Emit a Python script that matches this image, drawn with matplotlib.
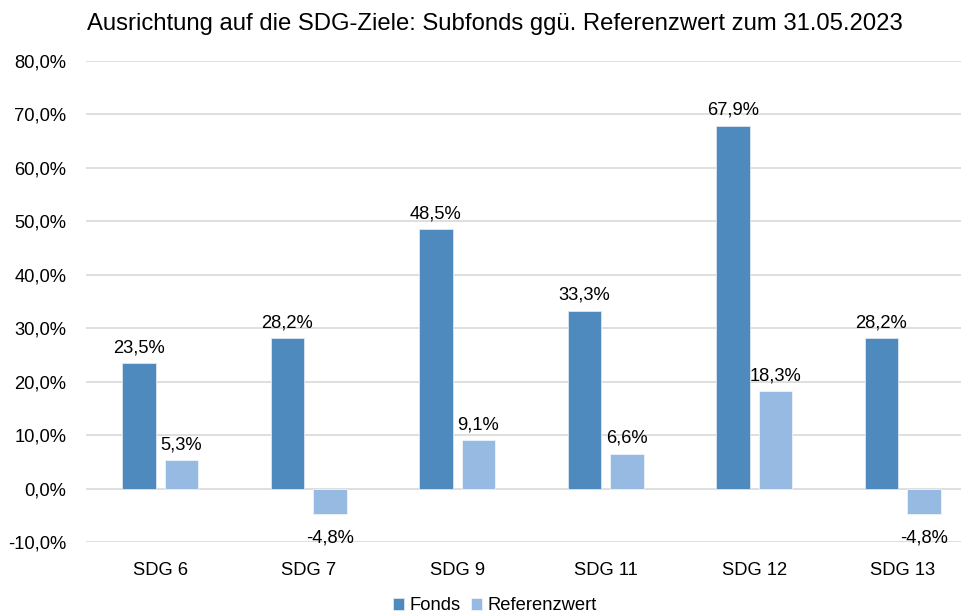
import numpy as np
import matplotlib
matplotlib.use("Agg")
import matplotlib.pyplot as plt

categories = ["SDG 6", "SDG 7", "SDG 9", "SDG 11", "SDG 12", "SDG 13"]
fonds = [23.5, 28.2, 48.5, 33.3, 67.9, 28.2]
referenz = [5.3, -4.8, 9.1, 6.6, 18.3, -4.8]
yticks = [-10, 0, 10, 20, 30, 40, 50, 60, 70, 80]

plt.rcParams["font.family"] = ["Liberation Sans", "DejaVu Sans"]

c_fonds = "#4f8abe"
c_ref = "#97bae2"
fs = 13.2


def fmt(v):
    return f"{v:.1f}%".replace(".", ",")


fig = plt.figure(figsize=(9.62, 6.14), dpi=100)
ax = fig.add_axes([86 / 962, 71.7 / 614, 1 - 86 / 962, (542.3 - 61) / 614])

x = np.arange(len(categories))
w = 0.226
off = 0.143
b1 = ax.bar(x - off, fonds, w, color=c_fonds, edgecolor="#dce6f2", linewidth=0.6, label="Fonds", zorder=3)
b2 = ax.bar(x + off, referenz, w, color=c_ref, edgecolor="#eef3fa", linewidth=0.6, label="Referenzwert", zorder=3)

for bars, vals in ((b1, fonds), (b2, referenz)):
    for b, v in zip(bars, vals):
        cx = b.get_x() + b.get_width() / 2
        if v >= 0:
            ax.annotate(fmt(v), (cx, v), xytext=(0, 5), textcoords="offset points",
                        ha="center", va="bottom", fontsize=fs)
        else:
            ax.annotate(fmt(v), (cx, v), xytext=(0, -11), textcoords="offset points",
                        ha="center", va="top", fontsize=fs)

ax.set_xlim(-0.5, 5.4)
ax.set_ylim(-10, 80)
ax.set_yticks(yticks)
ax.set_yticklabels([fmt(t) for t in yticks], fontsize=fs)
ax.set_xticks(x)
ax.set_xticklabels(categories, fontsize=fs)
ax.tick_params(axis="both", length=0)
ax.tick_params(axis="y", pad=14)
ax.tick_params(axis="x", pad=14)
ax.grid(axis="y", color="#d9d9d9", linewidth=1.2, zorder=0)
for s in ax.spines.values():
    s.set_visible(False)

fig.text(0.5146, 1 - 24 / 614, "Ausrichtung auf die SDG-Ziele: Subfonds ggü. Referenzwert zum 31.05.2023",
         ha="center", va="center", fontsize=17.2)

fig.legend(handles=[b1, b2], loc="center", bbox_to_anchor=(0.5146, 1 - 606 / 614), ncol=2,
           frameon=False, fontsize=fs, handlelength=0.6, handleheight=0.6,
           handletextpad=0.3, columnspacing=0.6)

fig.savefig("out.png", dpi=100)
